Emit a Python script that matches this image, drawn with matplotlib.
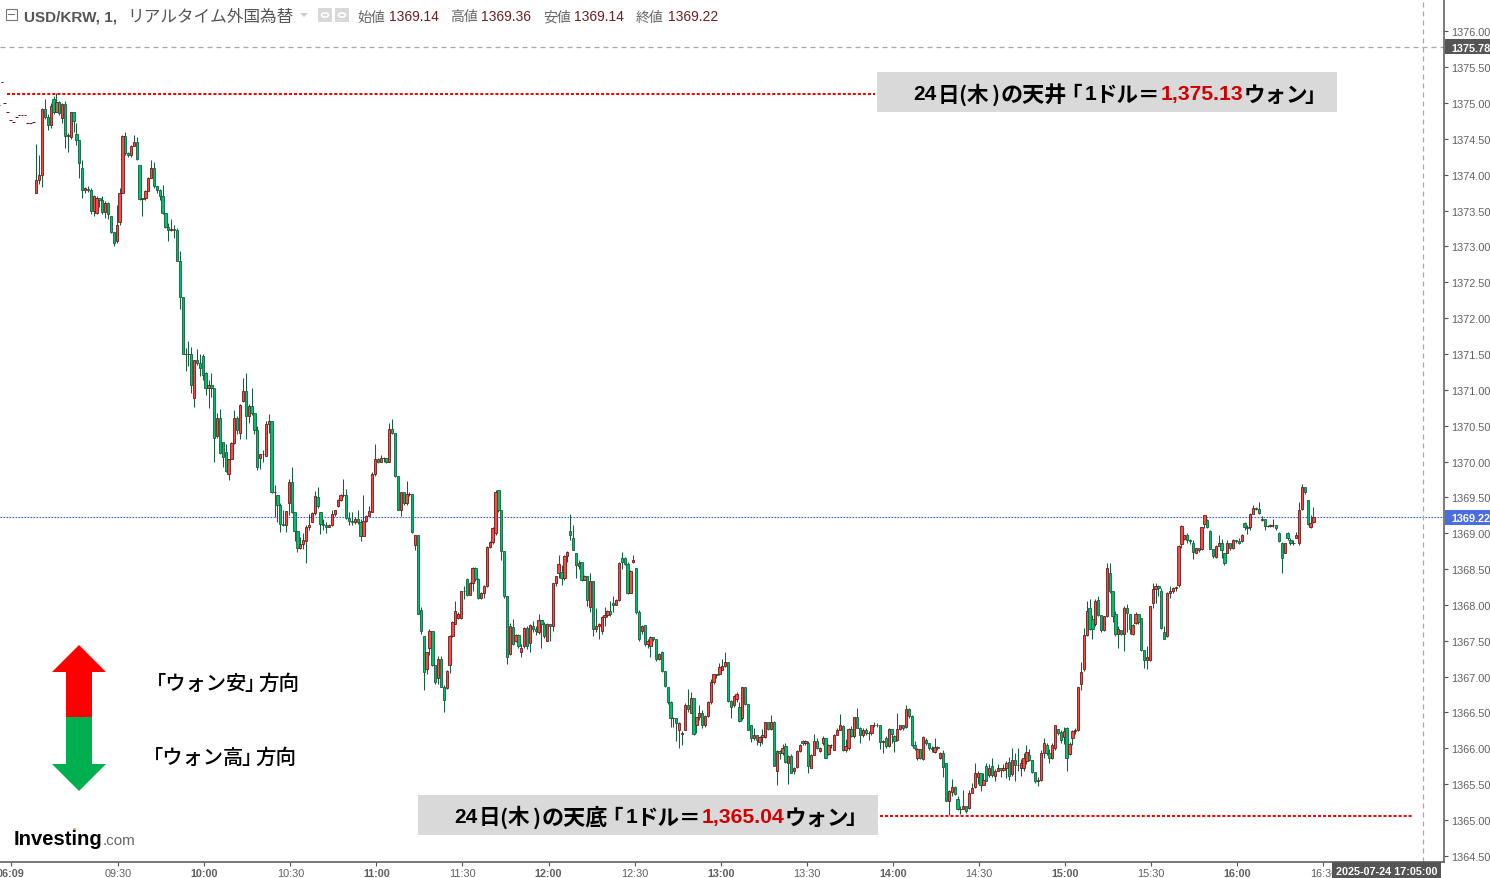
import matplotlib
matplotlib.use('Agg')
import matplotlib.pyplot as plt
from matplotlib.patches import Polygon, Rectangle, Circle

W, H = 1490, 879
JP = ['Noto Sans CJK JP', 'DejaVu Sans']
LAT = ['Liberation Sans']
plt.rcParams['font.family'] = ['Liberation Sans', 'DejaVu Sans']

# dane, jedna swieca = 1 minuta
closes = [
    1373.93,1374.00,1374.92,1374.80,1374.70,1374.96,1374.88,1375.01,1374.86,1374.98,
    1374.54,1374.55,1374.87,1374.75,1374.48,1374.16,1373.79,1373.82,1373.78,1373.50,
    1373.70,1373.68,1373.65,1373.48,1373.60,1373.45,1373.20,1373.05,1373.30,1373.75,
    1374.54,1374.30,1374.27,1374.40,1374.45,1374.22,1373.66,1373.67,1373.77,1373.95,
    1374.10,1373.84,1373.78,1373.70,1373.47,1373.27,1373.23,1373.24,1373.23,1372.80,
    1372.29,1371.50,1371.50,1371.50,1371.06,1371.42,1371.37,1371.30,1371.20,1371.02,
    1371.07,1371.02,1370.33,1370.60,1370.12,1370.06,1369.87,1370.03,1370.26,1370.61,
    1370.44,1370.79,1370.98,1370.63,1370.78,1370.67,1370.44,1369.93,1370.10,1370.10,
    1370.52,1370.56,1369.57,1369.58,1369.39,1369.13,1369.12,1369.31,1369.72,1369.29,
    1369.03,1368.79,1368.85,1368.90,1369.09,1369.11,1369.28,1369.52,1369.38,1369.13,
    1369.12,1369.08,1369.11,1369.27,1369.32,1369.47,1369.53,1369.53,1369.21,1369.17,
    1369.16,1369.20,1369.16,1368.96,1369.17,1369.24,1369.31,1369.83,1370.04,1370.00,
    1370.05,1370.05,1370.00,1370.46,1370.40,1369.80,1369.33,1369.57,1369.42,1369.55,
    1369.55,1369.01,1368.97,1367.88,1367.63,1367.06,1367.34,1367.63,1367.16,1366.92,
    1367.24,1366.86,1366.67,1367.08,1367.57,1367.76,1367.91,1367.88,1368.19,1368.20,
    1368.14,1368.31,1368.51,1368.36,1368.10,1368.17,1368.26,1368.81,1368.88,1369.07,
    1369.57,1369.33,1368.75,1368.13,1367.27,1367.71,1367.45,1367.58,1367.42,1367.40,
    1367.68,1367.42,1367.72,1367.66,1367.63,1367.79,1367.74,1367.56,1367.74,1367.70,
    1368.30,1368.40,1368.57,1368.38,1368.68,1368.74,1368.97,1368.77,1368.56,1368.58,
    1368.35,1368.41,1368.07,1368.34,1367.67,1367.71,1367.73,1367.83,1367.86,1367.91,
    1367.87,1368.00,1368.07,1368.58,1368.60,1368.57,1368.17,1368.47,1368.62,1367.90,
    1367.52,1367.70,1367.45,1367.49,1367.55,1367.53,1367.24,1367.31,1367.08,1366.87,
    1366.65,1366.42,1366.42,1366.35,1366.35,1366.22,1366.61,1366.55,1366.70,1366.20,
    1366.43,1366.49,1366.32,1366.45,1366.65,1366.93,1367.03,1367.02,1367.13,1367.15,
    1367.21,1366.66,1366.58,1366.73,1366.76,1366.38,1366.85,1366.62,1366.26,1366.14,
    1366.19,1366.11,1366.16,1366.18,1366.36,1366.27,1366.36,1365.76,1365.96,1365.93,
    1366.00,1365.81,1365.89,1365.66,1365.73,1365.96,1366.05,1366.07,1366.10,1365.75,
    1365.91,1366.10,1366.01,1366.00,1366.14,1365.87,1366.05,1366.05,1366.19,1366.25,
    1366.32,1365.97,1366.03,1366.27,1366.17,1366.43,1366.29,1366.19,1366.26,1366.22,
    1366.21,1366.32,1366.33,1366.32,1366.09,1366.10,1366.03,1366.27,1366.20,1366.10,
    1366.27,1366.32,1366.29,1366.55,1366.45,1366.05,1366.00,1365.99,1365.86,1366.16,
    1366.07,1366.00,1365.99,1366.02,1366.00,1365.93,1365.74,1365.27,1365.41,1365.46,
    1365.36,1365.15,1365.15,1365.19,1365.13,1365.37,1365.44,1365.66,1365.66,1365.49,
    1365.56,1365.55,1365.73,1365.63,1365.68,1365.73,1365.70,1365.73,1365.79,1365.61,
    1365.83,1365.77,1365.77,1365.79,1365.86,1365.95,1365.84,1365.67,1365.55,1365.56,
    1365.93,1366.07,1365.93,1365.86,1366.05,1366.32,1366.21,1366.12,1366.24,1365.86,
    1366.06,1366.24,1366.25,1366.85,1367.07,1367.58,1367.91,1367.67,1367.66,1368.05,
    1367.86,1367.65,1367.84,1368.51,1368.19,1367.85,1367.59,1367.67,1367.60,1367.95,
    1367.89,1367.67,1367.72,1367.88,1367.76,1367.37,1367.23,1367.27,1367.98,1368.22,
    1368.26,1368.23,1367.68,1367.53,1368.17,1368.19,1368.23,1368.25,1368.82,1369.10,
    1368.97,1368.90,1368.89,1368.74,1368.79,1368.76,1369.08,1369.25,1369.08,1368.78,
    1368.68,1368.82,1368.87,1368.76,1368.58,1368.87,1368.79,1368.91,1368.89,1368.87,
    1368.98,1369.08,1369.07,1369.27,1369.35,1369.34,1369.28,1369.20,1369.10,1369.10,
    1369.11,1369.11,1369.07,1368.89,1368.66,1368.86,1368.93,1368.86,1368.87,1368.97,
    1369.33,1369.64,1369.57,1369.13,1369.14,1369.22,
]
highs = [
    1374.43,1374.27,1374.93,1375.06,1374.85,1375.00,1375.10,1375.14,1375.03,1375.00,
    1375.03,1374.58,1374.88,1374.80,1374.72,1374.45,1374.20,1373.83,1373.84,1373.82,
    1373.72,1373.70,1373.68,1373.70,1373.63,1373.62,1373.42,1373.20,1373.58,1373.82,
    1374.55,1374.60,1374.32,1374.42,1374.56,1374.53,1374.10,1373.68,1373.78,1373.97,
    1374.20,1374.18,1373.80,1373.80,1373.85,1373.47,1373.32,1373.38,1373.30,1373.25,
    1372.94,1372.30,1371.58,1371.68,1371.59,1371.42,1371.57,1371.50,1371.50,1371.25,
    1371.14,1371.23,1371.00,1370.67,1370.73,1370.27,1370.24,1370.04,1370.27,1370.72,
    1370.64,1370.80,1371.16,1371.23,1370.80,1371.02,1370.65,1370.50,1370.10,1370.16,
    1370.57,1370.66,1370.55,1369.67,1369.53,1369.42,1369.33,1369.31,1369.76,1369.92,
    1369.30,1369.03,1368.95,1369.00,1369.11,1369.27,1369.30,1369.59,1369.64,1369.30,
    1369.20,1369.15,1369.13,1369.33,1369.33,1369.48,1369.54,1369.76,1369.62,1369.30,
    1369.30,1369.22,1369.33,1369.20,1369.53,1369.26,1369.38,1369.85,1370.24,1370.05,
    1370.09,1370.06,1370.05,1370.53,1370.59,1370.38,1369.80,1369.57,1369.50,1369.73,
    1369.57,1369.53,1368.98,1368.97,1367.97,1367.55,1367.35,1367.67,1367.64,1367.13,
    1367.29,1367.29,1366.88,1367.09,1367.58,1367.77,1368.06,1367.90,1368.20,1368.27,
    1368.37,1368.32,1368.53,1368.53,1368.38,1368.18,1368.28,1368.82,1368.89,1369.08,
    1369.60,1369.60,1369.30,1368.75,1368.13,1367.75,1367.81,1367.60,1367.60,1367.45,
    1367.69,1367.70,1367.73,1367.78,1367.70,1367.88,1367.76,1367.76,1367.75,1367.74,
    1368.31,1368.41,1368.70,1368.55,1368.70,1368.75,1369.27,1369.11,1368.72,1368.62,
    1368.60,1368.42,1368.38,1368.45,1368.34,1367.95,1367.75,1367.84,1367.97,1367.93,
    1368.06,1368.13,1368.08,1368.60,1368.74,1368.67,1368.60,1368.48,1368.70,1368.51,
    1367.93,1367.72,1367.72,1367.52,1367.56,1367.54,1367.50,1367.33,1367.36,1367.08,
    1366.85,1366.66,1366.43,1366.40,1366.37,1366.24,1366.63,1366.83,1366.78,1366.63,
    1366.44,1366.60,1366.53,1366.46,1366.66,1366.96,1367.04,1367.03,1367.19,1367.25,
    1367.34,1367.21,1366.68,1366.74,1366.78,1366.65,1366.86,1366.85,1366.62,1366.33,
    1366.28,1366.16,1366.17,1366.27,1366.37,1366.36,1366.46,1366.38,1365.97,1365.98,
    1366.06,1366.07,1365.90,1365.92,1365.74,1365.97,1366.06,1366.12,1366.11,1366.10,
    1365.92,1366.20,1366.14,1366.02,1366.17,1366.12,1366.06,1366.06,1366.20,1366.28,
    1366.48,1366.32,1366.13,1366.28,1366.31,1366.44,1366.56,1366.30,1366.28,1366.29,
    1366.24,1366.33,1366.36,1366.35,1366.33,1366.12,1366.17,1366.29,1366.27,1366.18,
    1366.49,1366.33,1366.31,1366.60,1366.56,1366.47,1366.10,1366.00,1365.98,1366.17,
    1366.14,1366.08,1366.03,1366.15,1366.03,1365.95,1365.98,1365.80,1365.42,1365.57,
    1365.47,1365.33,1365.20,1365.42,1365.15,1365.42,1365.51,1365.79,1365.68,1365.62,
    1365.66,1365.80,1365.78,1365.87,1365.71,1365.78,1365.73,1365.78,1365.82,1365.88,
    1366.00,1365.93,1366.01,1365.85,1365.93,1366.05,1365.99,1365.84,1365.67,1365.60,
    1365.97,1366.14,1366.08,1365.99,1366.07,1366.33,1366.27,1366.25,1366.30,1366.30,
    1366.09,1366.26,1366.28,1366.86,1367.20,1367.68,1368.05,1368.08,1367.86,1368.08,
    1368.13,1367.86,1367.85,1368.58,1368.58,1367.90,1367.92,1367.71,1367.63,1367.98,
    1368.01,1367.88,1367.74,1367.90,1367.80,1367.82,1367.36,1367.43,1367.99,1368.31,
    1368.31,1368.28,1368.23,1367.71,1368.18,1368.26,1368.25,1368.27,1368.83,1369.12,
    1368.98,1369.00,1368.92,1368.90,1368.80,1368.78,1369.09,1369.26,1369.20,1369.04,
    1368.72,1368.83,1368.97,1368.92,1368.72,1368.90,1368.83,1368.92,1368.91,1368.93,
    1368.99,1369.16,1369.12,1369.28,1369.39,1369.36,1369.43,1369.24,1369.19,1369.12,
    1369.13,1369.20,1369.12,1369.01,1368.88,1368.87,1369.01,1368.93,1368.90,1369.02,
    1369.43,1369.69,1369.58,1369.47,1369.25,1369.37,
]
lows = [
    1373.74,1373.87,1373.83,1374.78,1374.62,1374.65,1374.85,1374.87,1374.83,1374.72,
    1374.37,1374.32,1374.50,1374.60,1374.42,1373.95,1373.68,1373.75,1373.76,1373.45,
    1373.43,1373.45,1373.55,1373.45,1373.40,1373.38,1373.18,1373.00,1373.05,1373.30,
    1373.75,1374.28,1374.25,1374.25,1374.40,1374.20,1373.65,1373.43,1373.65,1373.77,
    1373.95,1373.82,1373.75,1373.65,1373.45,1373.25,1373.08,1373.22,1373.12,1372.80,
    1372.12,1371.50,1371.26,1371.33,1370.95,1370.76,1371.35,1371.19,1371.13,1370.93,
    1370.75,1370.90,1370.00,1370.33,1370.10,1369.93,1369.86,1369.74,1370.05,1370.25,
    1370.38,1370.31,1370.83,1370.31,1370.53,1370.65,1370.38,1369.88,1369.90,1370.00,
    1370.07,1370.40,1369.56,1369.22,1369.15,1369.02,1369.10,1369.01,1369.25,1369.28,
    1368.89,1368.74,1368.78,1368.78,1368.59,1369.05,1369.15,1369.26,1369.35,1368.99,
    1369.05,1369.00,1369.08,1369.10,1369.24,1369.36,1369.45,1369.50,1369.20,1369.12,
    1369.12,1369.13,1369.13,1368.89,1369.05,1369.15,1369.24,1369.29,1369.80,1369.98,
    1370.02,1370.00,1369.98,1370.00,1370.38,1369.79,1369.32,1369.24,1369.40,1369.40,
    1369.52,1369.00,1368.76,1367.87,1367.60,1366.82,1367.03,1367.30,1367.15,1366.90,
    1366.90,1366.85,1366.50,1366.83,1367.05,1367.55,1367.74,1367.80,1367.80,1368.08,
    1368.13,1368.25,1368.20,1368.34,1368.08,1368.08,1368.10,1368.25,1368.80,1368.85,
    1368.98,1369.30,1368.62,1368.10,1367.17,1367.30,1367.44,1367.48,1367.40,1367.28,
    1367.40,1367.38,1367.35,1367.62,1367.58,1367.60,1367.40,1367.54,1367.50,1367.49,
    1367.63,1368.27,1368.37,1368.28,1368.35,1368.60,1368.91,1368.76,1368.38,1368.50,
    1368.33,1368.35,1367.99,1367.90,1367.56,1367.62,1367.53,1367.60,1367.71,1367.83,
    1367.85,1367.90,1368.02,1368.05,1368.50,1368.55,1368.15,1368.17,1368.59,1367.88,
    1367.50,1367.60,1367.43,1367.40,1367.27,1367.50,1367.22,1367.23,1367.06,1366.85,
    1366.62,1366.30,1366.30,1366.10,1366.00,1366.04,1366.25,1366.50,1366.49,1366.18,
    1366.21,1366.40,1366.29,1366.30,1366.44,1366.62,1366.90,1366.98,1367.02,1367.10,
    1367.14,1366.65,1366.42,1366.58,1366.65,1366.37,1366.40,1366.61,1366.25,1366.09,
    1366.12,1366.05,1366.03,1366.06,1366.15,1366.25,1366.25,1365.75,1365.49,1365.85,
    1365.90,1365.79,1365.50,1365.65,1365.64,1365.72,1365.95,1366.04,1366.05,1365.65,
    1365.72,1366.02,1365.99,1365.95,1366.05,1365.86,1365.90,1366.00,1365.97,1366.22,
    1366.30,1365.96,1365.95,1365.98,1366.16,1366.15,1366.28,1366.07,1366.16,1366.18,
    1366.12,1366.19,1366.30,1366.30,1365.99,1365.93,1366.00,1366.02,1366.08,1365.95,
    1366.10,1366.25,1366.26,1366.29,1366.42,1366.03,1365.98,1365.83,1365.85,1365.83,
    1366.04,1365.98,1365.95,1365.93,1365.98,1365.85,1365.60,1365.26,1365.07,1365.34,
    1365.35,1365.14,1365.08,1365.15,1365.10,1365.15,1365.38,1365.45,1365.50,1365.40,
    1365.53,1365.54,1365.60,1365.60,1365.54,1365.68,1365.60,1365.68,1365.58,1365.56,
    1365.62,1365.55,1365.68,1365.62,1365.68,1365.78,1365.82,1365.65,1365.52,1365.48,
    1365.55,1365.86,1365.90,1365.79,1365.85,1365.98,1366.18,1366.07,1366.06,1365.69,
    1365.90,1366.05,1366.20,1366.24,1366.82,1367.08,1367.56,1367.65,1367.53,1367.70,
    1367.84,1367.62,1367.63,1367.83,1368.17,1367.76,1367.57,1367.40,1367.58,1367.36,
    1367.62,1367.60,1367.58,1367.74,1367.74,1367.36,1367.12,1367.10,1367.22,1367.95,
    1368.03,1368.12,1367.67,1367.52,1367.55,1368.10,1368.16,1368.20,1368.25,1368.79,
    1368.90,1368.86,1368.85,1368.64,1368.72,1368.74,1368.76,1369.07,1369.07,1368.78,
    1368.66,1368.65,1368.84,1368.66,1368.56,1368.72,1368.77,1368.78,1368.87,1368.85,
    1368.88,1369.05,1368.99,1369.05,1369.30,1369.32,1369.27,1369.17,1369.05,1369.08,
    1369.08,1369.09,1369.05,1368.88,1368.44,1368.72,1368.90,1368.84,1368.83,1368.93,
    1368.84,1369.32,1369.55,1369.12,1369.07,1369.14,
]
# otwarcia, ktore nie sa rowne poprzedniemu zamknieciu
gap_opens = {
    0:1373.75,6:1375.06,9:1374.79,12:1374.52,14:1374.57,16:1374.10,18:1373.80,21:1373.47,
    26:1373.42,28:1373.07,29:1373.34,36:1374.13,55:1370.88,58:1371.47,59:1371.23,63:1370.35,
    65:1370.27,66:1370.13,67:1369.83,71:1370.40,72:1370.84,78:1370.05,80:1370.08,84:1369.53,
    87:1369.12,88:1369.42,94:1368.89,96:1369.16,98:1369.51,99:1369.30,105:1369.38,117:1369.30,
    132:1368.83,134:1367.93,135:1367.56,136:1367.10,137:1367.40,140:1366.98,143:1366.84,
    144:1367.16,146:1367.74,147:1367.82,148:1367.82,150:1368.36,153:1368.52,160:1369.00,
    161:1369.60,165:1367.31,166:1367.69,167:1367.50,169:1367.34,170:1367.43,172:1367.47,
    173:1367.71,175:1367.62,177:1367.74,178:1367.50,182:1368.45,183:1368.46,186:1369.03,
    187:1368.93,188:1368.72,189:1368.54,190:1368.60,193:1367.97,195:1367.67,197:1367.64,
    201:1368.03,204:1368.66,205:1368.66,208:1368.60,209:1368.51,211:1367.64,212:1367.72,
    214:1367.42,218:1367.35,220:1366.85,224:1366.26,225:1366.20,226:1366.25,228:1366.49,
    230:1366.32,233:1366.32,238:1367.04,239:1367.09,243:1366.60,244:1366.69,245:1366.58,
    246:1366.42,249:1366.32,250:1366.15,252:1366.09,254:1366.16,258:1365.69,261:1366.03,
    262:1365.80,264:1365.68,265:1365.74,267:1366.10,269:1366.07,270:1365.73,273:1365.96,
    274:1366.07,276:1365.92,278:1365.98,281:1366.31,282:1365.97,283:1366.00,285:1366.17,
    288:1366.18,291:1366.21,296:1366.15,297:1366.03,299:1366.17,300:1366.12,303:1366.30,
    307:1365.86,309:1365.85,310:1366.12,313:1365.95,315:1365.86,317:1365.80,319:1365.39,
    321:1365.29,325:1365.17,327:1365.46,328:1365.60,331:1365.75,332:1365.63,333:1365.75,
    334:1365.61,338:1365.72,339:1365.81,340:1365.64,343:1365.72,344:1365.72,345:1365.82,
    346:1365.90,352:1366.05,354:1365.86,355:1366.01,356:1366.27,357:1366.23,358:1366.16,
    359:1366.28,360:1365.92,361:1366.15,363:1366.25,364:1366.89,365:1367.10,367:1367.96,
    368:1367.81,369:1367.74,370:1368.07,372:1367.65,373:1367.84,374:1368.45,376:1367.88,
    378:1367.65,381:1367.88,382:1367.60,383:1367.75,385:1367.82,388:1367.23,389:1368.03,
    392:1368.19,393:1367.62,394:1367.56,398:1368.28,399:1368.85,400:1368.92,401:1368.97,
    403:1368.87,404:1368.73,406:1368.78,407:1369.13,408:1369.18,409:1369.03,411:1368.67,
    414:1368.72,415:1368.73,417:1368.79,420:1368.89,421:1369.14,423:1369.08,427:1369.19,
    433:1369.00,434:1368.86,435:1368.73,436:1369.00,437:1368.90,439:1368.93,440:1368.86,
    441:1369.34,443:1369.47,444:1369.08,445:1369.15,
}
# kreski sprzed otwarcia sesji
pre_idx = [-13, -12, -11, -10, -9, -8, -7, -6, -5, -4, -3, -2, -1]
pre_prices = [1374.97, 1375.29, 1375.00, 1374.87, 1374.76, 1374.73, 1374.80, 1374.83, 1374.83, 1374.83, 1374.72, 1374.72, 1374.73]

tick_pos = [-8.9, 28.5, 58.5, 88.5, 118.5, 148.5, 178.5, 208.5, 238.5, 268.5, 298.5, 328.5, 358.5, 388.5, 418.5, 448.5]
tick_labels = ['06:09', '09:30', '10:00', '10:30', '11:00', '11:30', '12:00', '12:30', '13:00', '13:30',
               '14:00', '14:30', '15:00', '15:30', '16:00', '16:30']
price_ticks = [1364.5 + 0.5 * k for k in range(24)]

ceiling_price = 1375.13
floor_price = 1365.06
last_price = 1369.22
cross_price = 1375.78
cross_idx = 483.2

px_per_idx = 2.87
x0_px = 36.3
ax_right = 1444
ax_bottom = 862.5


def fx(x):
    return x / W


def fy(y):
    return 1 - y / H


def idx(x_px):
    return (x_px - x0_px) / px_per_idx


fig = plt.figure(figsize=(W / 100, H / 100), dpi=100, facecolor='white')
ax = fig.add_axes([0, 1 - ax_bottom / H, ax_right / W, ax_bottom / H])
ax.set_xlim(idx(0), idx(ax_right))
ax.set_ylim(1365 - (ax_bottom - 821) / 71.7, 1365 + 821 / 71.7)

opens = []
for i, c in enumerate(closes):
    opens.append(gap_opens.get(i, closes[i - 1] if i else c))
xs = list(range(len(closes)))

ax.vlines(xs, lows, highs, color='#14603c', lw=0.75, zorder=3)
for i in xs:
    up = closes[i] >= opens[i]
    bot = min(opens[i], closes[i])
    top = max(opens[i], closes[i])
    ax.bar(i, top - bot, bottom=bot, width=0.8,
           color='#fb4a46' if up else '#00c06c',
           edgecolor='#6d1818' if up else '#0f5f3c', linewidth=0.6, zorder=4)
ax.hlines(pre_prices, [p - 0.45 for p in pre_idx], [p + 0.45 for p in pre_idx], color='#6d1818', lw=0.75, zorder=4)

# linie poziomow
dots = (0, (1.5, 1.0))
ax.hlines(ceiling_price, idx(7), idx(875), color='#ff0000', lw=1.45, linestyle=dots, zorder=5)
ax.hlines(floor_price, idx(880), idx(1412), color='#ff0000', lw=1.45, linestyle=dots, zorder=5)
ax.axhline(last_price, color='#3d5fd0', lw=0.8, linestyle=(0, (1.5, 1.2)), zorder=2)
ax.axhline(cross_price, color='#a8a8a8', lw=0.9, linestyle=(0, (4, 3.2)), zorder=2)
ax.axvline(cross_idx, color='#a8a8a8', lw=0.9, linestyle=(0, (4, 3.2)), zorder=2)

for s in ['top', 'left']:
    ax.spines[s].set_visible(False)
for s in ['right', 'bottom']:
    ax.spines[s].set_color('#555555')
    ax.spines[s].set_linewidth(1.1)

ax.yaxis.tick_right()
ax.set_yticks(price_ticks)
ax.set_yticklabels(['%.2f' % p for p in price_ticks], fontsize=7.8, color='#5f5f5f')
ax.tick_params(axis='y', length=3, width=0.8, color='#555555', pad=2)
ax.set_xticks(tick_pos)
ax.set_xticklabels(tick_labels, fontsize=7.8, color='#5f5f5f')
ax.tick_params(axis='x', length=3, width=0.8, color='#555555', pad=2)
for lab in ax.get_xticklabels():
    if lab.get_text().endswith(':00') or lab.get_text() == '06:09':
        lab.set_fontweight('bold')


def box(x1, y1, x2, y2, color, zorder=6):
    fig.add_artist(Rectangle((fx(x1), fy(y2)), fx(x2 - x1), (y2 - y1) / H, transform=fig.transFigure,
                             facecolor=color, edgecolor='none', zorder=zorder))


def label(x, y, s, size, color='black', weight='normal', family=JP, ha='left', zorder=8):
    fig.text(fx(x), fy(y), s, fontsize=size, color=color, fontweight=weight, family=family,
             ha=ha, va='center', zorder=zorder)


# etykiety po prawej i na dole
box(1445, 40, W, 55, '#555555')
label(1451, 48.5, '1375.78', 7.8, 'white', 'bold', LAT)
box(1445, 511, W, 526, '#4a6ee0')
label(1451, 519.5, '1369.22', 7.8, 'white', 'bold', LAT)
box(1332, 863, 1441, 879, '#555555')
label(1336, 872, '2025-07-24 17:05:00', 7.8, 'white', 'bold', LAT)

# naglowek
fig.add_artist(Rectangle((fx(6), fy(21)), fx(11), 11 / H, transform=fig.transFigure,
                         facecolor='none', edgecolor='#777777', lw=0.8))
fig.add_artist(Rectangle((fx(8), fy(16)), fx(7), 1 / H, transform=fig.transFigure,
                         facecolor='#777777', edgecolor='none'))
label(24, 17, 'USD/KRW, 1,', 11, '#555555', 'bold', LAT)
label(127, 17, 'リアルタイム外国為替', 12, '#555555')
fig.add_artist(Polygon([(fx(300), fy(14)), (fx(308), fy(14)), (fx(304), fy(18))], transform=fig.transFigure,
                       facecolor='#cccccc', edgecolor='none'))
for x1 in (318, 335):
    box(x1, 9, x1 + 14, 23, '#d8d8d8')
    fig.add_artist(Circle((fx(x1 + 7), fy(16)), 3.5 / W, transform=fig.transFigure, facecolor='none',
                          edgecolor='white', lw=1.2, zorder=7))
dark = '#6b1f1f'
for lx, name, vx, val in [(357, '始値', 389, '1369.14'), (450, '高値', 481, '1369.36'),
                          (543, '安値', 574, '1369.14'), (636, '終値', 668, '1369.22')]:
    label(lx, 17.5, name, 10, '#666666')
    label(vx, 17, val, 10, dark, family=LAT)


def banner(dx, y, word, value):
    # tekst skladany z kawalkow, zeby trzymac szerokosc jak w oryginale
    ny = y + 2
    ly = y + 1.5
    label(913.5 - dx, ly, '24', 15, 'black', 'bold', LAT)
    label(938 - dx, ny, '日', 15.5, 'black', 'bold')
    label(958 - dx, ny, '(', 15.5, 'black', 'bold')
    label(967 - dx, ny, '木', 15.5, 'black', 'bold')
    label(992 - dx, ny, ')', 15.5, 'black', 'bold')
    label(1001 - dx, ny, word, 15.9, 'black', 'bold')
    label(1060 - dx, ny, '「', 15.5, 'black', 'bold')
    label(1085 - dx, ly, '1', 15, 'black', 'bold', LAT)
    label(1095 - dx, ny, 'ドル', 15.5, 'black', 'bold')
    label(1138 - dx, ny, '＝', 15.5, 'black', 'bold')
    label(1161 - dx, ly, value, 15.2, '#d00000', 'bold', LAT)
    label(1244 - dx, ny, 'ウォン', 15.5, 'black', 'bold')
    label(1304 - dx, ny, '」', 15.5, 'black', 'bold')


# ramki z opisem
box(877, 73, 1337, 113, '#d9d9d9')
banner(0, 93, 'の天井', '1,375.13')
box(418, 796, 878, 836, '#d9d9d9')
banner(459, 816, 'の天底', '1,365.04')

# strzalki
up_arrow = [(79, 646), (106, 673), (92, 673), (92, 718), (66, 718), (66, 673), (52, 673)]
down_arrow = [(66, 718), (92, 718), (92, 765), (106, 765), (79, 792), (52, 765), (66, 765)]
for pts, col in [(up_arrow, '#ff0000'), (down_arrow, '#00b050')]:
    fig.add_artist(Polygon([(fx(a), fy(b)) for a, b in pts], transform=fig.transFigure,
                           facecolor=col, edgecolor='none', zorder=7))
for dx, y, s in [(0, 684, '「ウォン安'), (-3, 758, '「ウォン高')]:
    label(146 + dx, y, s, 14.6, 'black', 'medium')
    label(244 + dx, y, '」', 14.6, 'black', 'medium')
    label(258 + dx, y, '方向', 14.8, 'black', 'medium')

# logo
label(14, 840, 'Investing', 14.6, 'black', 'bold', LAT)
label(103, 841, '.com', 11, '#666666', 'normal', LAT)
fig.add_artist(Circle((fx(74.5), fy(830)), 1.5 / W, transform=fig.transFigure, facecolor='#f7941d',
                      edgecolor='none', zorder=9))

fig.savefig('out.png', dpi=100)
